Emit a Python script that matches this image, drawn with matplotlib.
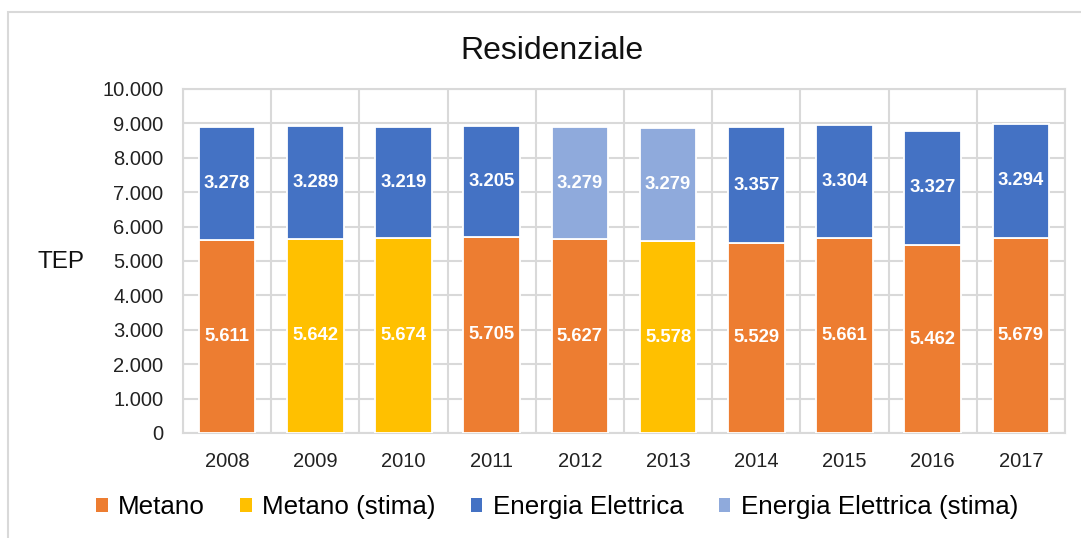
import matplotlib
matplotlib.use("Agg")
import matplotlib.pyplot as plt
from matplotlib.patches import Patch, Rectangle
import numpy as np

plt.rcParams['font.family'] = ['Liberation Sans', 'DejaVu Sans']

years = ['2008', '2009', '2010', '2011', '2012', '2013', '2014', '2015', '2016', '2017']
metano = [5611, 5642, 5674, 5705, 5627, 5578, 5529, 5661, 5462, 5679]
elettrica = [3278, 3289, 3219, 3205, 3279, 3279, 3357, 3304, 3327, 3294]
metano_stima = [False, True, True, False, False, True, False, False, False, False]
elettrica_stima = [False, False, False, False, True, True, False, False, False, False]
yticks = [0, 1000, 2000, 3000, 4000, 5000, 6000, 7000, 8000, 9000, 10000]
legend_labels = ['Metano', 'Metano (stima)', 'Energia Elettrica', 'Energia Elettrica (stima)']

C_MET = '#ED7D31'
C_MET_S = '#FFC000'
C_EL = '#4472C4'
C_EL_S = '#8FAADC'
GRID = '#D9D9D9'

def fmt(v):
    return f"{v:,}".replace(",", ".")

fig = plt.figure(figsize=(10.81, 5.38), dpi=100)
ax = fig.add_axes([183/1081, 1-433/538, (1065-183)/1081, (433-89)/538])

x = np.arange(len(years))
w = 0.64
met_colors = [C_MET_S if s else C_MET for s in metano_stima]
el_colors = [C_EL_S if s else C_EL for s in elettrica_stima]
ax.bar(x, metano, width=w, color=met_colors, edgecolor='white', linewidth=1.3, zorder=3)
ax.bar(x, elettrica, width=w, bottom=metano, color=el_colors, edgecolor='white', linewidth=1.3, zorder=3)

for xi, m, e in zip(x, metano, elettrica):
    ax.text(xi, m/2, fmt(m), ha='center', va='center', color='white', fontsize=13.3, fontweight='bold', zorder=4)
    ax.text(xi, m + e/2, fmt(e), ha='center', va='center', color='white', fontsize=13.3, fontweight='bold', zorder=4)

ax.set_xlim(-0.5, len(years)-0.5)
ax.set_ylim(0, 10000)
ax.set_yticks(yticks)
ax.set_yticklabels([fmt(v) for v in yticks], fontsize=14.5, color='#222222')
ax.set_xticks(x)
ax.set_xticklabels(years, fontsize=14.5, color='#222222')
ax.tick_params(length=0)
ax.tick_params(axis='y', pad=14)
ax.tick_params(axis='x', pad=14)
ax.set_xticks(np.arange(-0.5, len(years)), minor=True)
ax.tick_params(which='minor', length=0)
ax.grid(axis='y', which='major', color=GRID, linewidth=1.5, zorder=0)
ax.grid(axis='x', which='minor', color=GRID, linewidth=1.5, zorder=0)
ax.grid(axis='x', which='major', visible=False)
for s in ax.spines.values():
    s.set_color(GRID)
    s.set_linewidth(1.5)

fig.text(552/1081, 1-51/538, 'Residenziale', ha='center', va='center', fontsize=23, color='#111111')
fig.text(37/1081, 1-262/538, 'TEP', ha='left', va='center', fontsize=17.5, color='#111111')

handles = [Patch(facecolor=c, edgecolor='none') for c in [C_MET, C_MET_S, C_EL, C_EL_S]]
fig.legend(handles, legend_labels, loc='center', bbox_to_anchor=(557/1081, 1-507/538), ncol=4,
           frameon=False, fontsize=18.7, handlelength=0.45, handleheight=0.45, handletextpad=0.4,
           columnspacing=1.35)

fig.add_artist(Rectangle((8/1081, -0.1), 1.2, 1-12/538+0.1, transform=fig.transFigure,
                         fill=False, edgecolor=GRID, linewidth=1.5))

fig.savefig('out.png', dpi=100)
